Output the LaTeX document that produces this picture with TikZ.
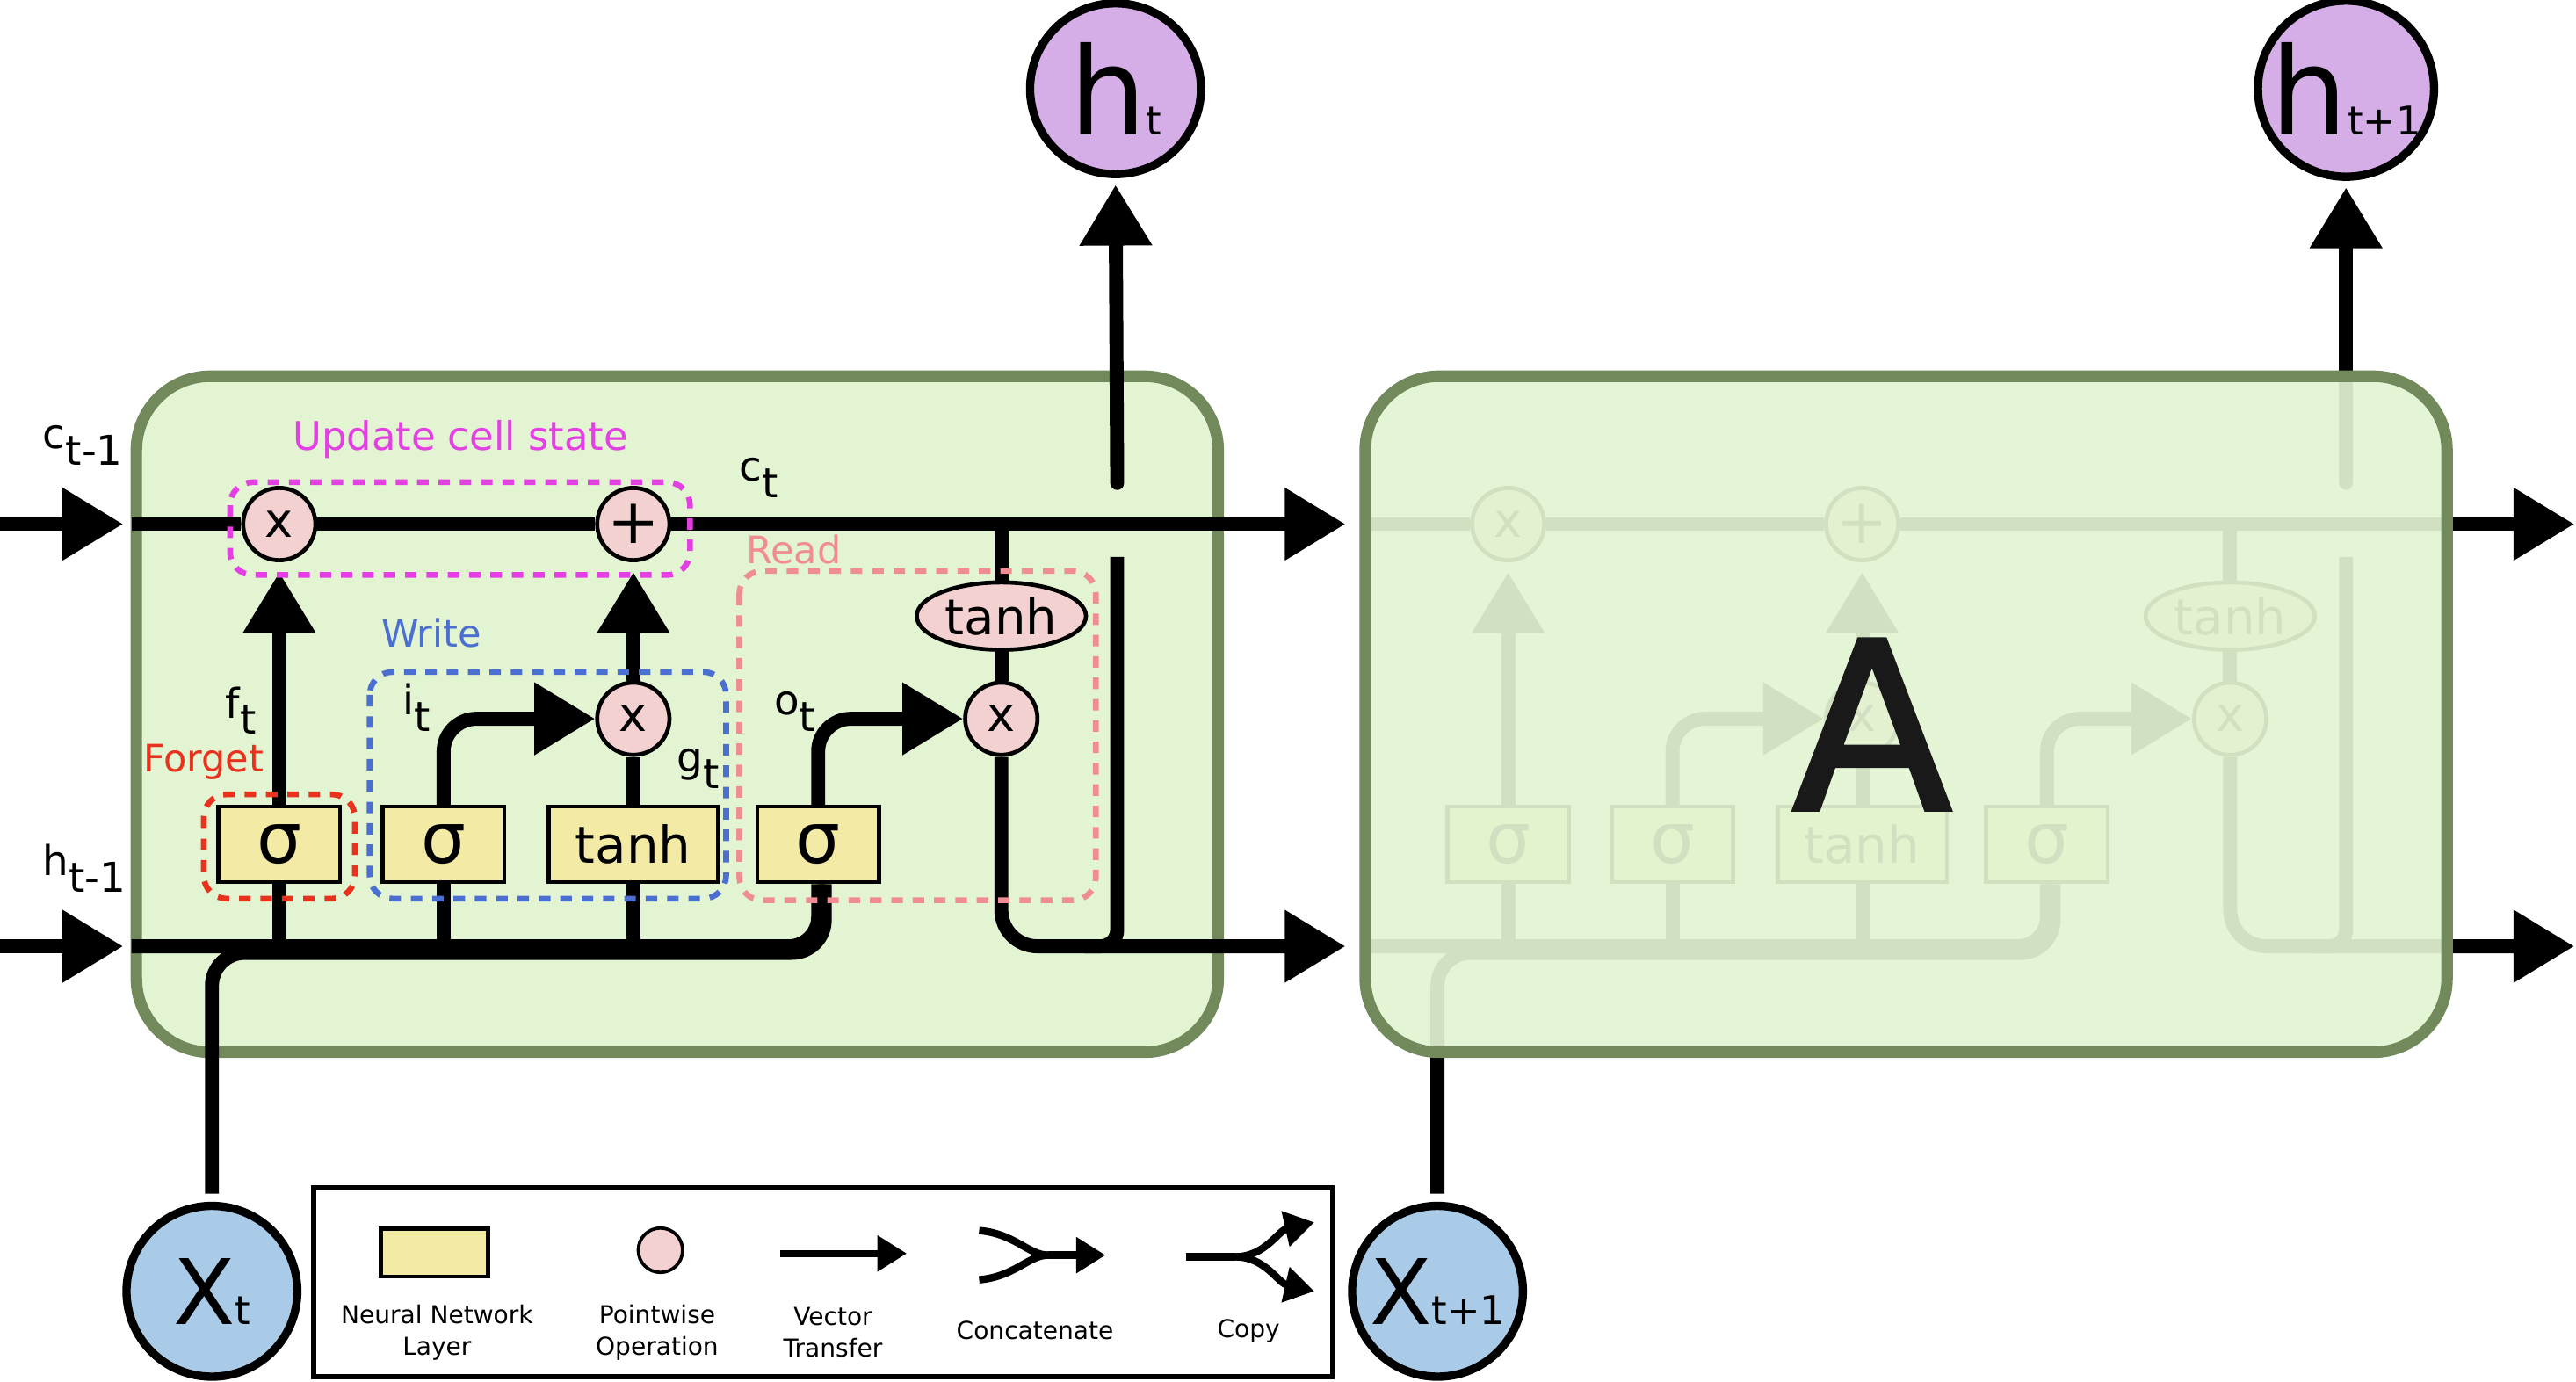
\documentclass[tikz,border=0pt]{standalone}
\usepackage{fontspec}
\setmainfont{DejaVu Sans}
\newfontfamily\heavyfont[FakeBold=1.8]{DejaVu Sans}
\usepackage{xcolor}
\usepackage{tikz}
\usetikzlibrary{shapes.geometric, arrows.meta, positioning, calc}

\definecolor{cellfill}{HTML}{E2F4D1}
\definecolor{celldraw}{HTML}{728A5B}
\definecolor{layerfill}{HTML}{F3EBA5}
\definecolor{pointfill}{HTML}{F4D1D1}
\definecolor{hfill}{HTML}{D5AEE8}
\definecolor{xfill}{HTML}{A9CBE8}
\definecolor{updatecol}{HTML}{E33FE3}
\definecolor{writecol}{HTML}{4A6FD0}
\definecolor{forgetcol}{HTML}{E8321E}
\definecolor{readcol}{HTML}{F08C94}

\newcommand{\fsz}[1]{\fontsize{#1}{#1}\selectfont}
\newcommand{\lowsub}[1]{\raisebox{-10pt}{#1}}

% one LSTM cell: shift, name prefix, input node, output node
\newcommand{\lstmcell}[4]{%
  \begin{scope}[xshift=#1]
    \coordinate (#2cstart) at (80,319);
    \coordinate (#2cend) at (819,319);
    \coordinate (#2ctap) at (609.5,319);
    \coordinate (#2hstart) at (80,576);
    \coordinate (#2hend) at (819,576);
    \coordinate (#2xjoin) at (502,580);
    \coordinate (#2hup) at (680,294);
    \coordinate (#2hdn) at (680,339);
    \coordinate (#2hmerge) at (660,576);

    \node (#2fmul) [point] at (170,319) {x};
    \node (#2addc) [point, font=\fsz{38}] at (385.5,319) {+};
    \node (#2sigf) [layer] at (170,514) {σ};
    \node (#2sigi) [layer] at (270,514) {σ};
    \node (#2tanhg) [layer, minimum width=103pt, font=\fsz{31}] at (385.5,514) {tanh};
    \node (#2sigo) [layer] at (498,514) {σ};
    \node (#2imul) [point] at (385.5,437.5) {x};
    \node (#2omul) [point] at (609.5,437.5) {x};
    \node (#2tanhc) [pointell] at (609.5,375) {tanh};

    % inputs
    \draw[line, rounded corners=18pt] (#2hstart) -| (#2sigo.south);
    \draw[line, rounded corners=20pt, shorten <=5pt] (#3.north) |- (#2xjoin) -- (#2xjoin |- #2sigo.south);
    \foreach \g in {sigf,sigi,tanhg}
      \draw[line] (#2\g.south) -- (#2\g.south |- #2hstart);

    % gates
    \draw[arrow, shorten >=6pt] (#2sigf.north) -- (#2fmul.south);
    \draw[arrow, rounded corners=20pt] (#2sigi.north) |- (#2imul.west);
    \draw[line] (#2tanhg.north) -- (#2imul.south);
    \draw[arrow, shorten >=6pt] (#2imul.north) -- (#2addc.south);
    \draw[arrow, rounded corners=20pt] (#2sigo.north) |- (#2omul.west);

    % cell state
    \draw[line] (#2cstart) -- (#2fmul.west);
    \draw[line] (#2fmul.east) -- (#2addc.west);
    \draw[arrow] (#2addc.east) -- (#2cend);
    \draw[line] (#2ctap) -- (#2tanhc.north);
    \draw[line] (#2tanhc.south) -- (#2omul.north);

    % outputs
    \draw[arrow, rounded corners=22pt] (#2omul.south) |- (#2hend);
    \draw[line, rounded corners=10pt] (#2hdn) |- (#2hmerge);
    \draw[arrow, line cap=round, shorten >=4pt] (#2hup) -- (#4.south);
  \end{scope}}

\begin{document}
\begin{tikzpicture}[
        x=1pt, y=-1pt,
        line/.style={line width=8.5pt},
        arrow/.style={line, -{Triangle[length=37pt,width=42pt]}},
        small line/.style={line width=4.5pt},
        small arrow/.style={small line, -{Triangle[length=18pt,width=21pt]}},
        cell/.style={fill=cellfill, draw=celldraw, line width=7pt, rounded corners=45pt},
        layer/.style={rectangle, draw, line width=2.5pt, fill=layerfill, minimum width=74pt, minimum height=46pt, inner sep=0pt, font=\fsz{43}},
        point/.style={circle, draw, line width=2.5pt, fill=pointfill, minimum size=44pt, inner sep=0pt, font=\fsz{29}},
        pointell/.style={ellipse, draw, line width=2.5pt, fill=pointfill, minimum width=103pt, minimum height=41pt, inner sep=0pt, font=\fsz{30}},
        hnode/.style={circle, draw, line width=5pt, fill=hfill, minimum size=104pt, inner sep=0pt},
        xnode/.style={circle, draw, line width=5pt, fill=xfill, minimum size=104pt, inner sep=0pt},
        lbl/.style={inner sep=0pt, anchor=base west, font=\fsz{25}},
        tag/.style={inner sep=0pt, anchor=base west, font=\fsz{23}},
        dashbox/.style={line width=3.5pt, dash pattern=on 7pt off 6pt, rounded corners=14pt},
        legend/.style={inner sep=0pt, align=center, font={\fontsize{15}{19.5}\selectfont}}
    ]
    \useasboundingbox (0,0) rectangle (1568,841);

    \node (ht) [hnode] at (679,54) {\fsz{74}h\fsz{24}t};
    \node (ht1) [hnode] at (1428,54) {\fsz{74}h\fsz{24}t+1};
    \node (xt) [xnode] at (129,786) {\fsz{55}X\fsz{24}t};
    \node (xt1) [xnode] at (875,786) {\fsz{55}X\fsz{24}t+1};

    % cell at step t
    \draw[cell] (83,229) rectangle (741.5,640.5);
    \lstmcell{0pt}{a}{xt}{ht}

    \coordinate (cin) at (0,319);
    \coordinate (hin) at (0,576);
    \draw[arrow, shorten >=5pt] (cin) -- (acstart);
    \draw[arrow, shorten >=5pt] (hin) -- (ahstart);

    \node (ctm1) [lbl] at (26,273) {c\lowsub{t-1}};
    \node (htm1) [lbl] at (26,533) {h\lowsub{t-1}};
    \node (ctlbl) [lbl] at (450,293) {c\lowsub{t}};
    \node (ftlbl) [lbl] at (137,437) {f\lowsub{t}};
    \node (itlbl) [lbl] at (245,435) {i\lowsub{t}};
    \node (gtlbl) [lbl] at (412,470) {g\lowsub{t}};
    \node (otlbl) [lbl] at (471,435) {o\lowsub{t}};

    \draw[dashbox, updatecol] (140,293.5) rectangle (420,350);
    \draw[dashbox, forgetcol] (124,483.5) rectangle (216,547);
    \draw[dashbox, writecol] (225,409) rectangle (442,547);
    \draw[dashbox, readcol] (450,347.5) rectangle (667,548);
    \node (updlbl) [tag, text=updatecol, font=\fsz{24}] at (178,274) {Update cell state};
    \node (wrlbl) [tag, text=writecol] at (232,394) {Write};
    \node (fglbl) [tag, text=forgetcol] at (87,470) {Forget};
    \node (rdlbl) [tag, text=readcol] at (454,343) {Read};

    % cell at step t+1, faded under the box
    \lstmcell{748pt}{b}{xt1}{ht1}
    \draw[cell, fill opacity=0.92] (831,229) rectangle (1489.5,640.5);
    \node (cellA) [inner sep=0pt, text=black!90, font=\heavyfont\fsz{142}] at (1139.5,441) {A};

    % legend
    \draw[line width=3pt] (191,723) rectangle (811,838);
    \node (lglayer) [layer, minimum width=65pt, minimum height=29pt] at (264.5,762.5) {};
    \node (lgpoint) [point, minimum size=27pt, line width=2pt] at (402,761) {};
    \coordinate (lgva) at (475,763);
    \coordinate (lgvb) at (552,763);
    \draw[small arrow] (lgva) -- (lgvb);
    \coordinate (lgca) at (596,749);
    \coordinate (lgcb) at (596,779);
    \coordinate (lgcm) at (638,764);
    \coordinate (lgce) at (673,764);
    \draw[small line] (lgca) .. controls (618,751) and (626,764) .. (lgcm);
    \draw[small line] (lgcb) .. controls (618,777) and (626,764) .. (lgcm);
    \draw[small arrow] (lgcm) -- (lgce);
    \coordinate (lgpa) at (722,765);
    \coordinate (lgpm) at (752,765);
    \coordinate (lgpu) at (800,744);
    \coordinate (lgpd) at (800,786);
    \draw[small line] (lgpa) -- (lgpm);
    \draw[small arrow] (lgpm) .. controls (770,765) and (778,749) .. (lgpu);
    \draw[small arrow] (lgpm) .. controls (770,765) and (778,781) .. (lgpd);
    \node (lglayertxt) [legend] at (266,811) {Neural Network\\Layer};
    \node (lgpointtxt) [legend] at (400,811) {Pointwise\\Operation};
    \node (lgvectxt) [legend] at (507,811) {Vector\\Transfer};
    \node (lgcattxt) [legend] at (630,810) {Concatenate};
    \node (lgcopytxt) [legend] at (760,810) {Copy};
\end{tikzpicture}
\end{document}
